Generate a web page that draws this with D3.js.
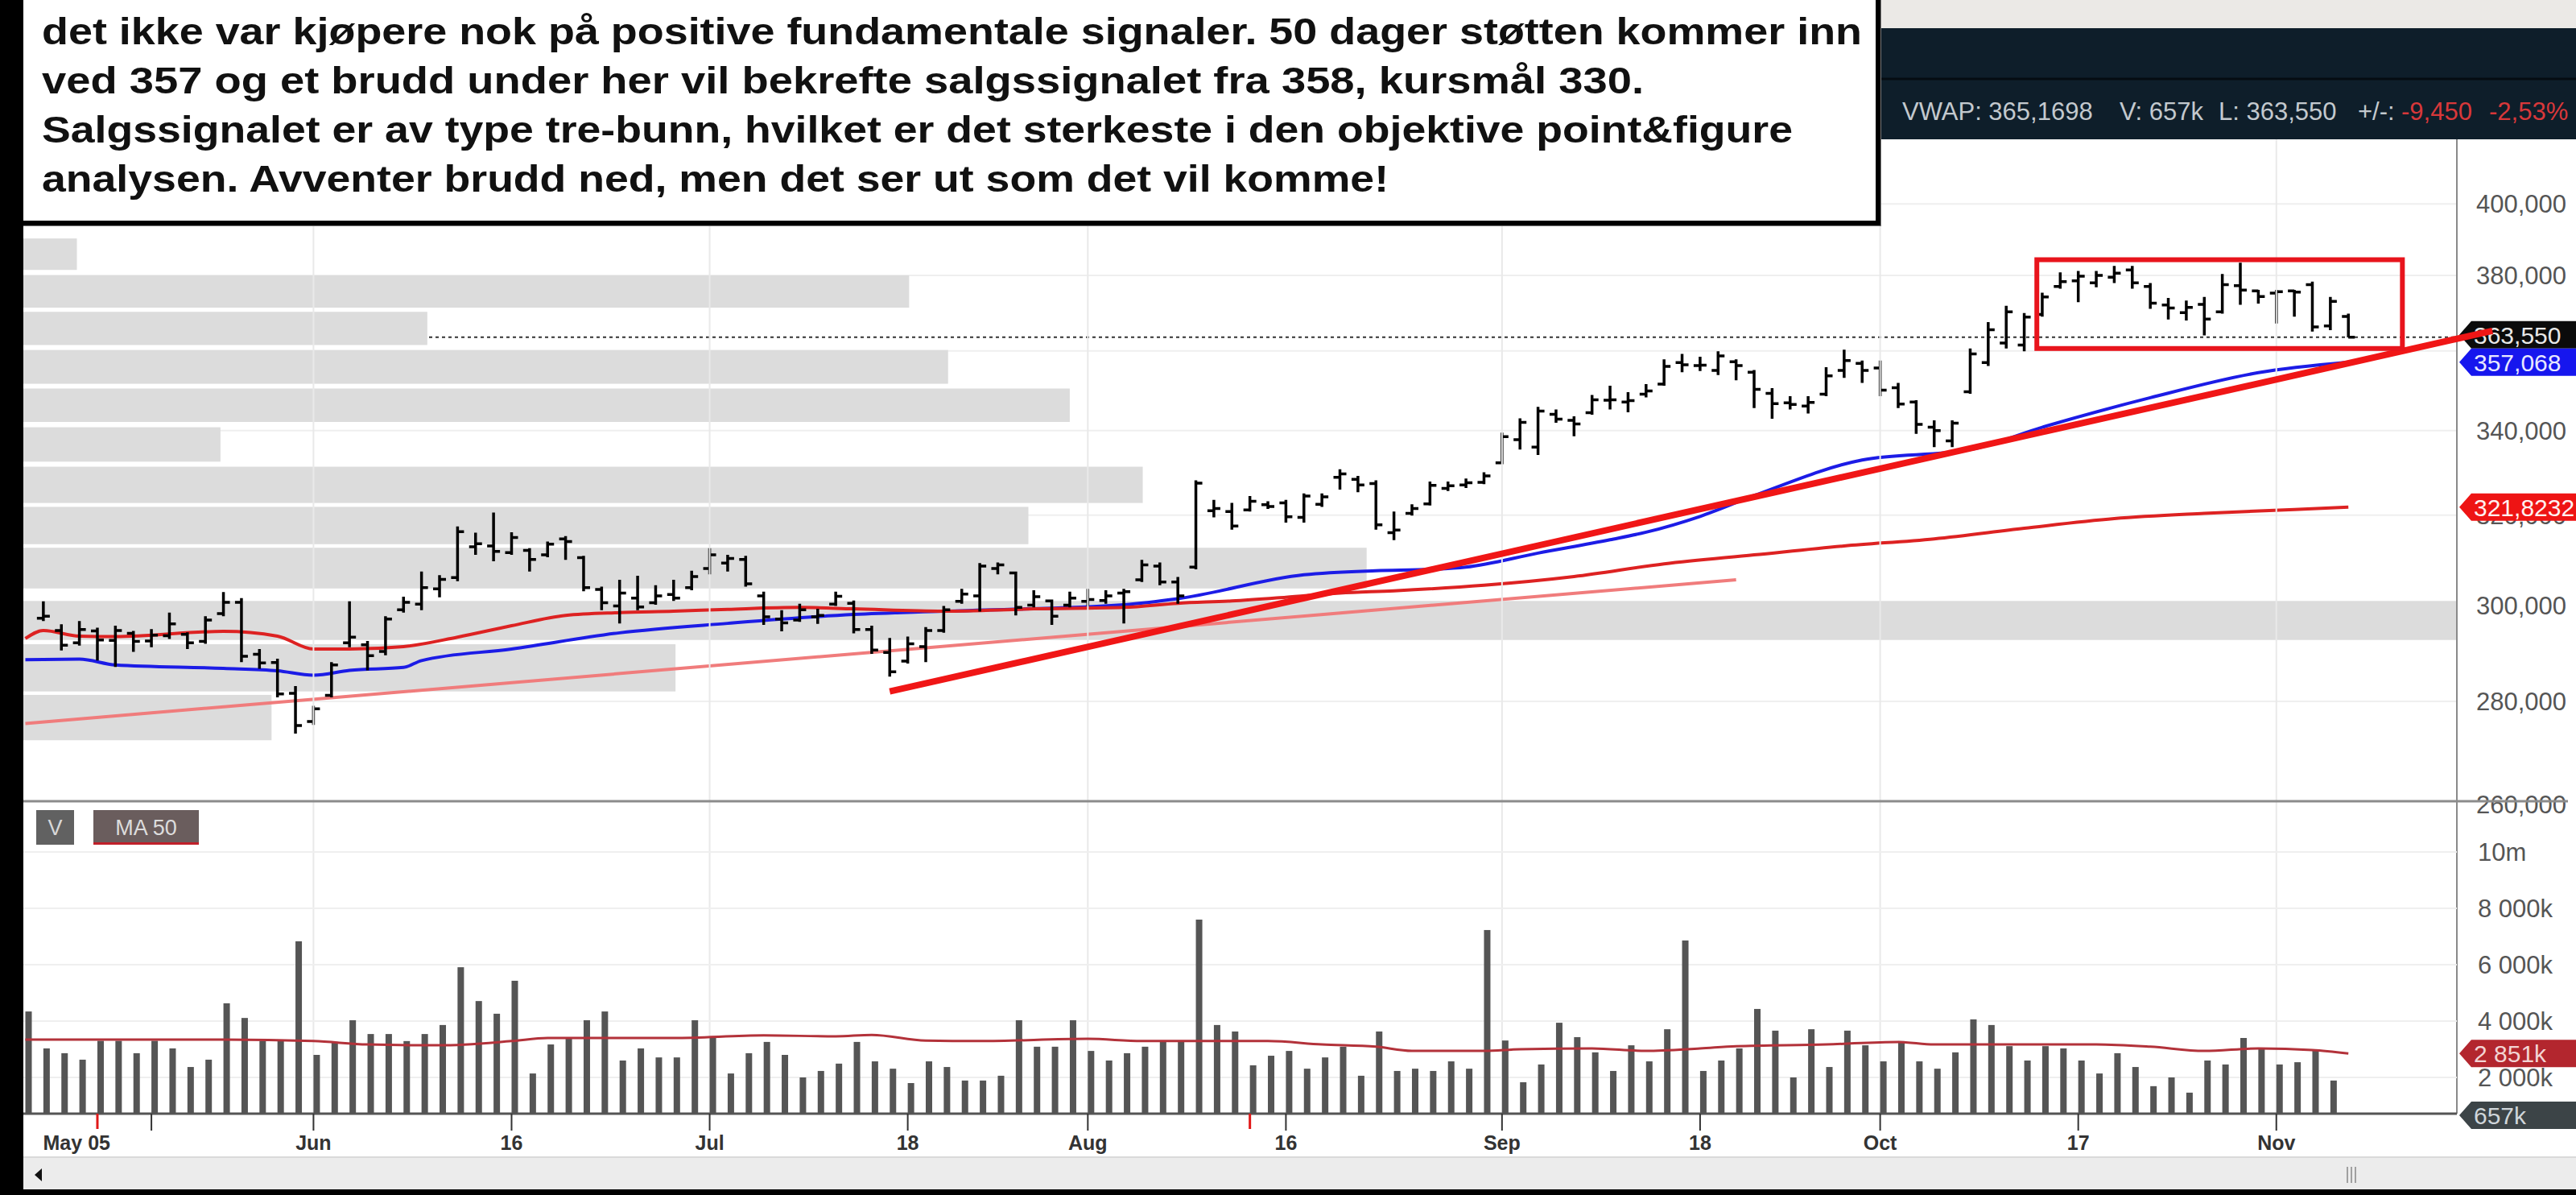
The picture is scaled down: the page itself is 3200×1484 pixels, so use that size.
<!DOCTYPE html>
<html>
<head>
<meta charset="utf-8">
<script src="https://cdn.jsdelivr.net/npm/d3@7"></script>
<style>
  html, body { margin: 0; padding: 0; background: #fff; }
  svg { display: block; font-family: "Liberation Sans", Arial, sans-serif; }
</style>
</head>
<body>
<svg id="chart" width="3200" height="1484"></svg>
<script>
// ---- daily OHLC, oldest first ----
var priceOpen = [
  297.2,294.6,292.0,294.5,292.5,294.0,292.4,293.5,293.8,292.3,
  298.2,300.6,289.6,287.9,281.6,276.0,281.2,292.0,291.6,290.2,
  299.0,300.2,303.5,306.0,312.8,313.0,311.5,312.0,311.0,314.6,
  310.4,303.4,299.8,301.5,300.5,302.3,303.8,308.0,309.2,310.0,
  302.0,297.0,296.8,297.5,300.2,300.4,294.8,290.0,288.2,291.2,
  294.6,300.8,302.0,308.0,307.0,300.0,300.9,300.0,300.8,301.0,
  302.6,305.5,308.5,305.0,308.3,321.0,320.8,321.2,322.4,322.8,
  319.5,322.5,328.8,328.3,327.3,316.0,320.4,322.6,326.2,327.0,
  327.6,332.2,337.8,336.0,344.0,342.5,344.4,347.5,347.0,349.0,
  351.5,357.0,356.2,355.0,357.2,354.5,349.2,346.8,346.0,349.0,
  355.0,356.8,355.6,350.6,347.0,340.8,337.5,349.6,357.0,362.0,
  361.5,369.5,377.0,378.5,378.0,379.5,381.5,377.0,372.0,370.0,
  372.2,370.2,377.2,375.8,375.2,375.8,377.5,366.5,369.0];
var priceHigh = [
  300.8,295.9,296.6,295.2,295.6,294.5,294.9,298.4,294.2,297.6,
  302.8,301.5,290.7,288.7,283.1,279.1,288.0,300.8,292.4,297.6,
  301.8,307.3,306.5,317.4,316.0,320.6,316.1,312.5,314.0,315.2,
  310.8,304.0,305.5,306.4,304.3,305.5,307.5,312.5,311.0,310.8,
  302.9,298.9,300.3,299.2,302.9,301.0,295.6,293.0,293.3,295.3,
  299.8,303.5,309.2,309.3,307.3,303.2,301.2,302.9,303.5,303.2,
  303.5,309.9,309.3,306.1,328.1,323.5,322.8,324.4,323.2,323.5,
  325.0,325.0,330.7,329.1,328.1,320.8,322.5,327.8,327.8,328.5,
  330.0,339.5,343.0,345.8,345.2,343.5,348.8,351.1,349.5,351.5,
  357.8,359.2,358.5,359.9,357.8,355.1,350.5,348.5,348.5,355.8,
  360.3,357.5,357.5,351.8,347.5,342.5,342.5,360.6,367.5,371.8,
  369.9,375.3,380.8,381.2,381.2,382.6,382.6,377.9,373.9,373.2,
  374.2,380.4,383.5,376.1,376.1,376.1,378.3,374.2,369.7];
var priceLow = [
  296.6,290.4,291.4,288.3,287.0,290.1,291.1,292.8,290.7,291.8,
  297.6,288.0,286.6,280.8,273.6,275.3,280.8,291.1,286.3,289.4,
  298.4,298.9,301.7,305.2,311.0,309.6,311.0,307.3,310.5,309.9,
  303.0,298.9,296.1,298.9,300.1,300.9,303.2,306.7,307.3,304.0,
  295.8,294.4,296.4,296.0,299.8,294.0,289.7,285.0,287.7,288.0,
  294.1,300.3,298.6,306.7,297.8,299.5,295.8,299.5,299.8,300.3,
  296.1,305.0,304.3,300.3,307.8,319.5,316.7,320.8,321.4,318.3,
  318.3,321.9,325.9,325.3,316.7,314.3,319.9,322.2,325.6,326.3,
  327.2,331.9,335.4,334.1,341.9,338.6,343.9,345.2,344.5,348.2,
  351.1,354.5,354.8,353.8,352.5,345.5,342.9,345.2,344.2,348.5,
  353.1,351.8,348.5,345.5,339.2,336.0,336.0,349.1,356.1,360.6,
  359.9,368.9,376.4,372.8,376.8,377.9,376.4,371.0,368.2,367.9,
  364.0,369.7,372.1,372.4,367.1,368.9,365.0,365.4,363.5];
var priceClose = [
  297.6,291.5,294.8,292.6,294.6,292.3,293.6,296.0,292.0,296.8,
  300.6,289.2,287.8,281.5,275.2,278.5,287.4,293.2,289.3,297.0,
  300.6,303.8,305.6,316.2,313.5,311.8,314.9,310.0,313.4,314.0,
  303.8,300.5,302.6,299.6,302.0,301.5,306.2,311.0,310.2,304.6,
  297.5,296.2,299.0,297.8,301.9,294.8,290.5,286.0,291.8,294.6,
  299.0,302.4,308.5,308.8,299.5,301.8,297.6,301.5,301.2,302.0,
  302.9,308.8,305.0,302.0,327.4,321.5,317.5,323.2,322.0,319.6,
  324.4,324.2,329.6,327.0,317.8,316.6,321.5,326.9,326.8,327.5,
  329.1,338.5,342.0,344.8,342.8,341.6,347.6,347.6,347.4,349.8,
  356.0,356.4,356.3,358.7,356.2,350.2,346.6,346.4,346.9,353.6,
  357.5,355.0,350.0,346.5,341.5,340.0,341.8,359.2,365.5,370.2,
  368.8,374.2,378.3,379.8,380.0,380.6,378.0,372.5,371.2,371.4,
  368.3,377.5,376.0,374.3,375.6,375.5,366.2,373.0,363.55];

// daily volume, millions
var volume = [
  4.34,3.03,2.86,2.63,3.30,3.30,2.86,3.30,3.03,2.37,
  2.63,4.63,4.11,3.29,3.29,6.83,2.80,3.26,4.03,3.54,
  3.54,3.29,3.54,3.86,5.91,4.71,4.26,5.43,2.14,3.17,
  3.40,4.03,4.34,2.60,3.03,2.71,2.71,4.03,3.40,2.14,
  2.86,3.26,2.80,2.00,2.23,2.49,3.26,2.57,2.31,1.80,
  2.57,2.37,1.89,1.89,2.06,4.03,3.09,3.09,4.03,2.94,
  2.60,2.86,3.09,3.29,3.31,7.60,3.86,3.63,2.43,2.77,
  2.94,2.31,2.71,3.09,2.06,3.63,2.23,2.31,2.23,2.57,
  2.31,7.23,3.31,1.83,2.46,3.94,3.43,2.89,2.23,3.14,
  2.57,3.71,6.86,2.23,2.60,3.03,4.43,3.66,2.00,3.71,
  2.37,3.66,3.14,2.57,3.29,2.57,2.31,2.89,4.06,3.86,
  3.11,2.60,3.11,3.03,2.60,2.14,2.86,2.37,1.69,2.00,
  1.46,2.60,2.46,3.40,3.00,2.46,2.54,3.00,1.89];

// moving averages: [bar index, value]
var maRed = [[-1,292.9],[0,294.6],[2,293.4],[4,293.3],[10,294.4],[13,293.4],[15,290.7],[17,290.7],
  [20,291.2],[23,293.2],[26,295.6],[29,297.8],[32,298.4],[35,298.7],[38,299.1],[42,299.5],
  [45,299.2],[50,298.7],[55,299.2],[60,299.5],[63,300.4],[66,300.9],[69,301.7],[72,302.6],
  [75,303.1],[80,304.3],[85,306.2],[90,309.0],[95,311.0],[100,313.0],[105,314.6],[110,317.0],
  [115,319.2],[120,320.4],[125,321.3],[128,321.8232]];
var maBlue = [[-1,288.5],[2,288.6],[4,287.4],[10,286.7],[13,286.2],[15,285.3],[17,286.3],
  [20,286.9],[21,288.3],[26,290.7],[32,294.1],[38,296.1],[45,298.0],[50,298.7],[60,300.1],
  [63,301.4],[70,306.6],[74,307.5],[77,307.8],[79,308.3],[83,311.4],[87,314.4],[89,316.1],
  [92,319.7],[95,324.5],[101,332.9],[107,335.4],[111,340.8],[117,348.1],[123,354.4],[128,357.068]];
var volMa = [[-1,3.34],[10,3.34],[15,3.29],[18,3.17],[22,3.14],[26,3.29],[28,3.40],[35,3.40],
  [40,3.49],[44,3.46],[46,3.51],[49,3.31],[52,3.29],[58,3.37],[61,3.29],[68,3.29],[71,3.17],
  [74,3.09],[76,2.94],[80,2.94],[82,3.00],[86,3.03],[89,2.94],[92,3.03],[94,3.11],[99,3.17],
  [103,3.26],[105,3.17],[114,3.17],[117,3.09],[120,2.94],[123,3.03],[126,2.97],[128,2.851]];

// hand drawn trend lines [bar index, price]
var trendThin = [[-1, 275.6], [94, 305.5]];
var trendThick = [[47, 282.0], [136, 365.2]];
// highlight box round the top
var boxIdx = [110.7, 131];
var boxPrice = [360.6, 384.3];

// volume at price (grey bands), relative volume 0-100
var vbpLow  = [381.5, 371.3, 361.5, 351.6, 342.1, 332.5, 322.8, 313.4, 303.6, 292.6, 282.0, 272.3];
var vbpHigh = [390.2, 380.0, 370.2, 360.2, 350.4, 340.8, 331.3, 321.9, 312.6, 300.9, 291.7, 281.3];
var vbpVol  = [2.2, 36.4, 16.6, 38.0, 43.0, 8.1, 46.0, 41.3, 55.2, 100, 26.8, 10.2];

// axes
var priceGrid = [400, 380, 360, 340, 320, 300, 280, 260];
var priceTicks = [400, 380, 340, 320, 300, 280, 260];   // 360 sits under the tags
var volTicks = [10, 8, 6, 4, 2];
var volTickLabels = ["10m", "8 000k", "6 000k", "4 000k", "2 000k"];
var dateTickSlots = [7, 16, 27, 38, 49, 59, 70, 82, 93, 103, 114, 125];
var dateLabelSlots = [2.85, 16, 27, 38, 49, 59, 70, 82, 93, 103, 114, 125];
var dateLabels = ["May 05", "Jun", "16", "Jul", "18", "Aug", "16", "Sep", "18", "Oct", "17", "Nov"];
var monthSlots = [16, 38, 59, 82, 103, 125];
var eventSlots = [4, 68];

// right axis tags
var tagValues = [363.55, 357.068, 321.8232];
var tagLabels = ["363,550", "357,068", "321,8232"];
var volTagValues = [2.851, 0.657];
var volTagLabels = ["2 851k", "657k"];

var headerParts = ["VWAP: 365,1698", "V: 657k", "L: 363,550", "+/-:", "-9,450", "-2,53%"];
var commentLines = [
  "det ikke var kjøpere nok på positive fundamentale signaler. 50 dager støtten kommer inn",
  "ved 357 og et brudd under her vil bekrefte salgssignalet fra 358, kursmål 330.",
  "Salgssignalet er av type tre-bunn, hvilket er det sterkeste i den objektive point&figure",
  "analysen. Avventer brudd ned, men det ser ut som det vil komme!"
];

// ------------------------------------------------------------
var svg = d3.select("#chart");
var W = 3200, H = 1484;
var pLeft = 29, pRight = 3052, pTop = 173, pMid = 995, pBase = 1383;

var x = d3.scaleLinear().domain([0, 128]).range([31.5, 31.5 + 22.37 * 128]);
var y = d3.scaleLog().domain([260.65, 418.95]).range([pMid, pTop]);
var yv = d3.scaleLinear().domain([0, 10]).range([1408, 1058]);
var xv = d3.scaleLinear().domain([0, 100]).range([pLeft, pRight]);

// price bars sit one slot right of the volume bars on this chart
var px = function (k) { return x(k + 1); };
var fmtPrice = function (v) { return d3.format(",.3f")(v).replace(".", ";").replace(",", " ").replace(";", ",").replace(" ", ""); };

svg.append("rect").attr("width", W).attr("height", H).attr("fill", "#fff");

var defs = svg.append("defs");
defs.append("clipPath").attr("id", "clipPrice").append("rect")
  .attr("x", pLeft).attr("y", pTop).attr("width", pRight - pLeft).attr("height", pMid - pTop);
defs.append("clipPath").attr("id", "clipVol").append("rect")
  .attr("x", pLeft).attr("y", pMid).attr("width", pRight - pLeft).attr("height", pBase - pMid);

// header
svg.append("rect").attr("x", 0).attr("y", 0).attr("width", W).attr("height", 35).attr("fill", "#ebe9e6");
svg.append("rect").attr("x", 0).attr("y", 35).attr("width", W).attr("height", 138).attr("fill", "#0e1e2a");
svg.append("line").attr("x1", 0).attr("x2", W).attr("y1", 98).attr("y2", 98)
  .attr("stroke", "#050c12").attr("stroke-width", 3);

var hdrX = [2363, 2633, 2756, 2929, 2983, 3092];
var hdrCol = ["#c3c9ce", "#c3c9ce", "#c3c9ce", "#c3c9ce", "#d8383a", "#d8383a"];
svg.append("g").selectAll("text").data(headerParts).enter().append("text")
  .attr("x", function (d, i) { return hdrX[i]; })
  .attr("y", 149)
  .attr("font-size", 31)
  .attr("fill", function (d, i) { return hdrCol[i]; })
  .text(function (d) { return d; });

// price panel
var gp = svg.append("g").attr("clip-path", "url(#clipPrice)");

gp.selectAll(".hgrid").data(priceGrid).enter().append("line")
  .attr("x1", pLeft).attr("x2", pRight)
  .attr("y1", function (d) { return y(d); }).attr("y2", function (d) { return y(d); })
  .attr("stroke", "#efefef").attr("stroke-width", 2);

var lastClose = priceClose[priceClose.length - 1];
gp.append("line")
  .attr("x1", pLeft).attr("x2", pRight)
  .attr("y1", y(lastClose)).attr("y2", y(lastClose))
  .attr("stroke", "#333").attr("stroke-width", 2).attr("stroke-dasharray", "4,4");

gp.selectAll(".vbp").data(vbpVol).enter().append("rect")
  .attr("x", pLeft)
  .attr("y", function (d, i) { return y(vbpHigh[i]); })
  .attr("width", function (d) { return xv(d) - pLeft; })
  .attr("height", function (d, i) { return y(vbpLow[i]) - y(vbpHigh[i]); })
  .attr("fill", "#dcdcdc");

// month gridlines through both panels
svg.append("g").selectAll("line").data(monthSlots).enter().append("line")
  .attr("x1", function (d) { return x(d); }).attr("x2", function (d) { return x(d); })
  .attr("y1", pTop).attr("y2", pBase)
  .attr("stroke", "#e9e9e9").attr("stroke-width", 2);

var ln = d3.line()
  .x(function (d) { return px(d[0]); })
  .y(function (d) { return y(d[1]); });

gp.append("path").datum(trendThin).attr("d", ln)
  .attr("fill", "none").attr("stroke", "#f07c7c").attr("stroke-width", 4);

var lnCurve = d3.line().curve(d3.curveMonotoneX)
  .x(function (d) { return px(d[0]); })
  .y(function (d) { return y(d[1]); });

gp.append("path").datum(maBlue).attr("d", lnCurve)
  .attr("fill", "none").attr("stroke", "#1c1ce6").attr("stroke-width", 4);
gp.append("path").datum(maRed).attr("d", lnCurve)
  .attr("fill", "none").attr("stroke", "#dd2222").attr("stroke-width", 4);

// OHLC bars
gp.append("g").selectAll("path").data(priceClose).enter().append("path")
  .attr("d", function (d, k) {
    var cx = px(k);
    return "M" + cx + "," + y(priceHigh[k]) + "V" + y(priceLow[k]) +
      "M" + (cx - 8) + "," + y(priceOpen[k]) + "H" + cx +
      "M" + cx + "," + y(d) + "H" + (cx + 8);
  })
  .attr("fill", "none").attr("stroke", "#000").attr("stroke-width", 3.5);

// right axis
svg.append("line").attr("x1", pRight).attr("x2", pRight).attr("y1", pTop).attr("y2", pBase)
  .attr("stroke", "#8a8a8a").attr("stroke-width", 2);

svg.append("g").selectAll("text").data(priceTicks).enter().append("text")
  .attr("x", 3076).attr("y", function (d) { return y(d); })
  .attr("dy", "0.36em").attr("font-size", 31).attr("fill", "#555")
  .text(function (d) { return fmtPrice(d); });

// separator between price and volume
svg.append("line").attr("x1", pLeft).attr("x2", 3190).attr("y1", pMid).attr("y2", pMid)
  .attr("stroke", "#8c8c8c").attr("stroke-width", 3);

// volume panel
var gv = svg.append("g").attr("clip-path", "url(#clipVol)");
gv.selectAll(".vgrid").data(volTicks).enter().append("line")
  .attr("x1", pLeft).attr("x2", pRight)
  .attr("y1", function (d) { return yv(d); }).attr("y2", function (d) { return yv(d); })
  .attr("stroke", "#efefef").attr("stroke-width", 2);

gv.selectAll(".vbar").data(volume).enter().append("rect")
  .attr("x", function (d, j) { return x(j); })
  .attr("y", function (d) { return yv(d); })
  .attr("width", 8)
  .attr("height", function (d) { return pBase - yv(d); })
  .attr("fill", "#555");

gv.append("path").datum(volMa)
  .attr("d", d3.line().curve(d3.curveMonotoneX)
    .x(function (d) { return px(d[0]); })
    .y(function (d) { return yv(d[1]); }))
  .attr("fill", "none").attr("stroke", "#b3323a").attr("stroke-width", 3);

svg.append("line").attr("x1", pLeft).attr("x2", pRight).attr("y1", pBase).attr("y2", pBase)
  .attr("stroke", "#555").attr("stroke-width", 3);

svg.append("g").selectAll("text").data(volTicks).enter().append("text")
  .attr("x", 3078).attr("y", function (d) { return yv(d); })
  .attr("dy", "0.36em").attr("font-size", 31).attr("fill", "#555")
  .text(function (d, i) { return volTickLabels[i]; });

// legend boxes
svg.append("rect").attr("x", 45).attr("y", 1006).attr("width", 47).attr("height", 43).attr("fill", "#616161");
svg.append("text").attr("x", 68.5).attr("y", 1037).attr("text-anchor", "middle")
  .attr("font-size", 27).attr("fill", "#d8d8d8").text("V");
svg.append("rect").attr("x", 116).attr("y", 1006).attr("width", 131).attr("height", 43).attr("fill", "#6a5d5d");
svg.append("rect").attr("x", 116).attr("y", 1046).attr("width", 131).attr("height", 3).attr("fill", "#c0202a");
svg.append("text").attr("x", 181.5).attr("y", 1037).attr("text-anchor", "middle")
  .attr("font-size", 27).attr("fill", "#dcdcdc").text("MA 50");

// date axis
svg.append("g").selectAll("line").data(dateTickSlots).enter().append("line")
  .attr("x1", function (d) { return x(d); }).attr("x2", function (d) { return x(d); })
  .attr("y1", pBase).attr("y2", pBase + 21)
  .attr("stroke", "#333").attr("stroke-width", 2);
svg.append("g").selectAll("line").data(eventSlots).enter().append("line")
  .attr("x1", function (d) { return x(d); }).attr("x2", function (d) { return x(d); })
  .attr("y1", pBase).attr("y2", pBase + 19)
  .attr("stroke", "#e01818").attr("stroke-width", 3);
svg.append("g").selectAll("text").data(dateLabels).enter().append("text")
  .attr("x", function (d, i) { return x(dateLabelSlots[i]); })
  .attr("y", 1428)
  .attr("text-anchor", "middle").attr("font-size", 25).attr("font-weight", "bold")
  .attr("fill", "#333")
  .text(function (d) { return d; });

// axis tags, nudged apart when they overlap
var tagH = 34;
var drawTags = function (vals, labels, scale, fills, textFills) {
  var ys = vals.map(function (v) { return scale(v); });
  for (var i = 1; i < ys.length; i++) {
    if (ys[i] - ys[i - 1] < tagH) {
      ys[i - 1] = ys[i] - tagH;
    }
  }
  var g = svg.append("g");
  vals.forEach(function (v, i) {
    var ty = ys[i];
    g.append("path")
      .attr("d", "M3055," + ty + "L3070," + (ty - tagH / 2) + "H" + W + "V" + (ty + tagH / 2) + "H3070Z")
      .attr("fill", fills[i]);
    g.append("text").attr("x", 3073).attr("y", ty).attr("dy", "0.36em")
      .attr("font-size", 30).attr("fill", textFills[i]).text(labels[i]);
  });
};
drawTags(tagValues, tagLabels, y, ["#0b0b0b", "#1616ee", "#ee1414"], ["#e8e8e8", "#e8e8ff", "#fff0f0"]);
drawTags(volTagValues, volTagLabels, yv, ["#b3262e", "#3c4447"], ["#f2d4d4", "#cfd6da"]);

// the thick support line runs over the tags
svg.append("path").datum(trendThick).attr("d", ln)
  .attr("fill", "none").attr("stroke", "#f01616").attr("stroke-width", 8);

// box round the top
svg.append("rect")
  .attr("x", px(boxIdx[0])).attr("y", y(boxPrice[1]))
  .attr("width", px(boxIdx[1]) - px(boxIdx[0]))
  .attr("height", y(boxPrice[0]) - y(boxPrice[1]))
  .attr("fill", "none").attr("stroke", "#e8141c").attr("stroke-width", 6);

// scroll bar at the bottom
svg.append("rect").attr("x", 0).attr("y", 1437).attr("width", W).attr("height", 40).attr("fill", "#ececec");
svg.append("line").attr("x1", 0).attr("x2", W).attr("y1", 1437).attr("y2", 1437).attr("stroke", "#dadada").attr("stroke-width", 2);
svg.append("path").attr("d", "M43,1459L52,1451V1467Z").attr("fill", "#111");
[2916, 2921, 2926].forEach(function (gx) {
  svg.append("line").attr("x1", gx).attr("x2", gx).attr("y1", 1449).attr("y2", 1469)
    .attr("stroke", "#a0a0a0").attr("stroke-width", 2);
});
svg.append("rect").attr("x", 0).attr("y", 1477).attr("width", W).attr("height", 7).attr("fill", "#000");

// comment box over the header
svg.append("rect").attr("x", 20).attr("y", -6).attr("width", 2317).attr("height", 287).attr("fill", "#7a7a7a");
svg.append("rect").attr("x", 16).attr("y", -10).attr("width", 2317).attr("height", 287)
  .attr("fill", "#fff").attr("stroke", "#000").attr("stroke-width", 6);
var lineW = [2261, 1990, 2175, 1673];
svg.append("g").selectAll("text").data(commentLines).enter().append("text")
  .attr("x", 52)
  .attr("y", function (d, i) { return 55 + i * 61; })
  .attr("font-size", 47).attr("font-weight", "bold").attr("fill", "#111")
  .attr("textLength", function (d, i) { return lineW[i]; })
  .attr("lengthAdjust", "spacingAndGlyphs")
  .text(function (d) { return d; });

// black frame on the left
svg.append("rect").attr("x", 0).attr("y", 0).attr("width", pLeft).attr("height", H).attr("fill", "#000");
</script>
</body>
</html>
